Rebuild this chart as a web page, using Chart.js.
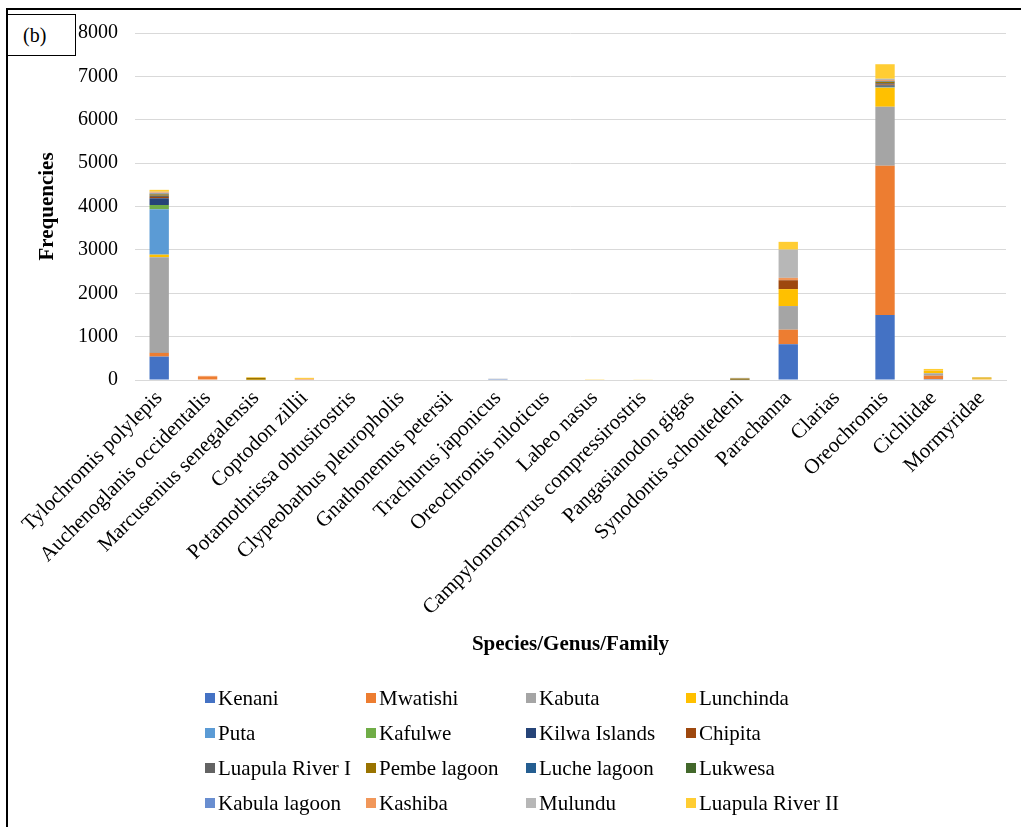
<!DOCTYPE html>
<html>
<head>
<meta charset="utf-8">
<script src="https://cdn.jsdelivr.net/npm/chart.js@4/dist/chart.umd.min.js"></script>
<style>
  html, body { margin: 0; padding: 0; background: #fff; }
  #wrap { position: relative; width: 1021px; height: 827px; overflow: hidden; }
  #c { position: absolute; left: 0; top: 0; }
  .frame-top { position: absolute; left: 6px; top: 8px; width: 1015px; height: 0; border-top: 2px solid #000; }
  .frame-left { position: absolute; left: 6px; top: 8px; width: 0; height: 819px; border-left: 2px solid #000; }
  .tag { position: absolute; left: 7px; top: 14px; width: 67px; height: 40px; border: 1px solid #000;
         font: 20px "Liberation Serif", "Times New Roman", serif; color: #000; background: #fff; }
  .tag span { position: absolute; left: 15px; top: 9px; }
</style>
</head>
<body>
<div id="wrap">
  <canvas id="c" width="1021" height="827"></canvas>
  <div class="frame-top"></div>
  <div class="frame-left"></div>
  <div class="tag"><span>(b)</span></div>
</div>
<script>
// Taxa on the x axis
const categories = [
  "Tylochromis polylepis", "Auchenoglanis occidentalis", "Marcusenius senegalensis",
  "Coptodon zillii", "Potamothrissa obtusirostris", "Clypeobarbus pleuropholis",
  "Gnathonemus petersii", "Trachurus japonicus", "Oreochromis niloticus",
  "Labeo nasus", "Campylomormyrus compressirostris", "Pangasianodon gigas",
  "Synodontis schoutedeni", "Parachanna", "Clarias", "Oreochromis",
  "Cichlidae", "Mormyridae"
];

// Sampling sites (stack order, bottom to top)
const siteNames = [
  "Kenani", "Mwatishi", "Kabuta", "Lunchinda",
  "Puta", "Kafulwe", "Kilwa Islands", "Chipita",
  "Luapula River I", "Pembe lagoon", "Luche lagoon", "Lukwesa",
  "Kabula lagoon", "Kashiba", "Mulundu", "Luapula River II"
];

// Frequencies per site, one value per taxon
const kenani        = [540, 0, 0, 0, 0, 0, 0, 0, 0, 0, 0, 0, 0, 825, 0, 1500, 20, 0];
const mwatishi      = [85, 75, 0, 0, 0, 0, 0, 0, 0, 0, 0, 0, 0, 335, 0, 3440, 80, 15];
const kabuta        = [2205, 0, 0, 0, 0, 0, 0, 10, 0, 0, 0, 0, 0, 545, 0, 1360, 55, 0];
const lunchinda     = [60, 0, 5, 0, 0, 0, 0, 0, 0, 0, 0, 0, 0, 390, 0, 440, 55, 20];
const puta          = [1045, 0, 0, 0, 0, 0, 0, 0, 0, 0, 0, 0, 0, 0, 0, 15, 0, 0];
const kafulwe       = [100, 0, 0, 0, 0, 0, 0, 0, 0, 0, 0, 0, 0, 0, 0, 5, 0, 0];
const kilwaIslands  = [154, 0, 0, 0, 0, 0, 0, 0, 0, 0, 0, 0, 0, 0, 0, 30, 0, 0];
const chipita       = [30, 0, 0, 0, 0, 0, 0, 0, 0, 0, 0, 0, 0, 205, 0, 25, 0, 0];
const luapulaRiverI = [30, 0, 0, 0, 0, 0, 0, 0, 0, 0, 0, 0, 5, 0, 0, 30, 0, 0];
const pembeLagoon   = [30, 0, 45, 10, 0, 0, 0, 0, 0, 0, 0, 0, 30, 0, 0, 30, 0, 15];
const lucheLagoon   = [10, 0, 0, 0, 0, 0, 0, 0, 0, 0, 0, 0, 0, 0, 0, 10, 0, 0];
const lukwesa       = [5, 0, 0, 0, 0, 0, 0, 0, 0, 0, 0, 0, 0, 0, 0, 5, 0, 0];
const kabulaLagoon  = [10, 0, 0, 0, 0, 0, 0, 10, 0, 0, 0, 0, 0, 0, 0, 5, 0, 0];
const kashiba       = [20, 20, 0, 15, 0, 0, 0, 0, 0, 0, 0, 0, 0, 55, 0, 20, 5, 0];
const mulundu       = [15, 0, 0, 0, 0, 0, 0, 10, 0, 0, 0, 0, 15, 650, 0, 30, 0, 0];
const luapulaRiverII= [45, 0, 15, 25, 0, 0, 0, 0, 0, 5, 15, 0, 0, 180, 0, 335, 40, 15];

const siteValues = [
  kenani, mwatishi, kabuta, lunchinda, puta, kafulwe, kilwaIslands, chipita,
  luapulaRiverI, pembeLagoon, lucheLagoon, lukwesa, kabulaLagoon, kashiba, mulundu, luapulaRiverII
];

// Y axis ticks
const yTicks = [0, 1000, 2000, 3000, 4000, 5000, 6000, 7000, 8000];

const siteColors = [
  "#4472C4", "#ED7D31", "#A5A5A5", "#FFC000",
  "#5B9BD5", "#70AD47", "#264478", "#9E480E",
  "#636363", "#997300", "#255E91", "#43682B",
  "#698ED0", "#F1975A", "#B7B7B7", "#FFCD33"
];

const FONT = '"Liberation Serif", "Times New Roman", serif';

// Four-column legend drawn beneath the plot
const gridLegend = {
  id: 'gridLegend',
  afterDraw(chart) {
    const ctx = chart.ctx;
    const colX = [205, 366, 526, 686];
    const rowY = [698, 733, 768, 803];
    ctx.save();
    ctx.font = '21px ' + FONT;
    ctx.textBaseline = 'middle';
    ctx.textAlign = 'left';
    chart.data.datasets.forEach((ds, i) => {
      const x = colX[i % 4], y = rowY[Math.floor(i / 4)];
      ctx.fillStyle = ds.backgroundColor;
      ctx.fillRect(x, y - 5, 10, 10);
      ctx.fillStyle = '#000';
      ctx.fillText(ds.label, x + 13, y + 1);
    });
    ctx.restore();
  }
};

new Chart(document.getElementById('c'), {
  type: 'bar',
  data: {
    labels: categories,
    datasets: siteNames.map((name, i) => ({
      label: name,
      data: siteValues[i],
      backgroundColor: siteColors[i],
      borderWidth: 0,
      barPercentage: 0.4,
      categoryPercentage: 1.0
    }))
  },
  options: {
    responsive: false,
    animation: false,
    devicePixelRatio: 1,
    layout: { padding: { left: 20, top: 33, right: 15, bottom: 162 } },
    plugins: {
      legend: { display: false },
      tooltip: { enabled: false }
    },
    scales: {
      x: {
        stacked: true,
        grid: { display: false, drawTicks: false },
        border: { display: true, color: '#D9D9D9', width: 1 },
        ticks: {
          autoSkip: false,
          maxRotation: 45,
          minRotation: 45,
          padding: 6,
          color: '#000',
          font: { family: FONT, size: 21 }
        },
        title: {
          display: true,
          text: 'Species/Genus/Family',
          color: '#000',
          font: { family: FONT, size: 21, weight: 'bold' },
          padding: { top: 0, bottom: 8 }
        },
        afterFit(scale) { scale.height = 285; }
      },
      y: {
        stacked: true,
        min: yTicks[0],
        max: yTicks[yTicks.length - 1],
        afterBuildTicks(scale) { scale.ticks = yTicks.map(v => ({ value: v })); },
        grid: { color: '#D9D9D9', lineWidth: 1, drawTicks: false },
        border: { display: false },
        ticks: {
          padding: 17,
          color: '#000',
          font: { family: FONT, size: 20 },
          callback: v => String(v)
        },
        title: {
          display: true,
          text: 'Frequencies',
          color: '#000',
          font: { family: FONT, size: 21, weight: 'bold' },
          padding: { top: 15, bottom: 0 }
        },
        afterFit(scale) { scale.width = 115; }
      }
    }
  },
  plugins: [gridLegend]
});
</script>
</body>
</html>
